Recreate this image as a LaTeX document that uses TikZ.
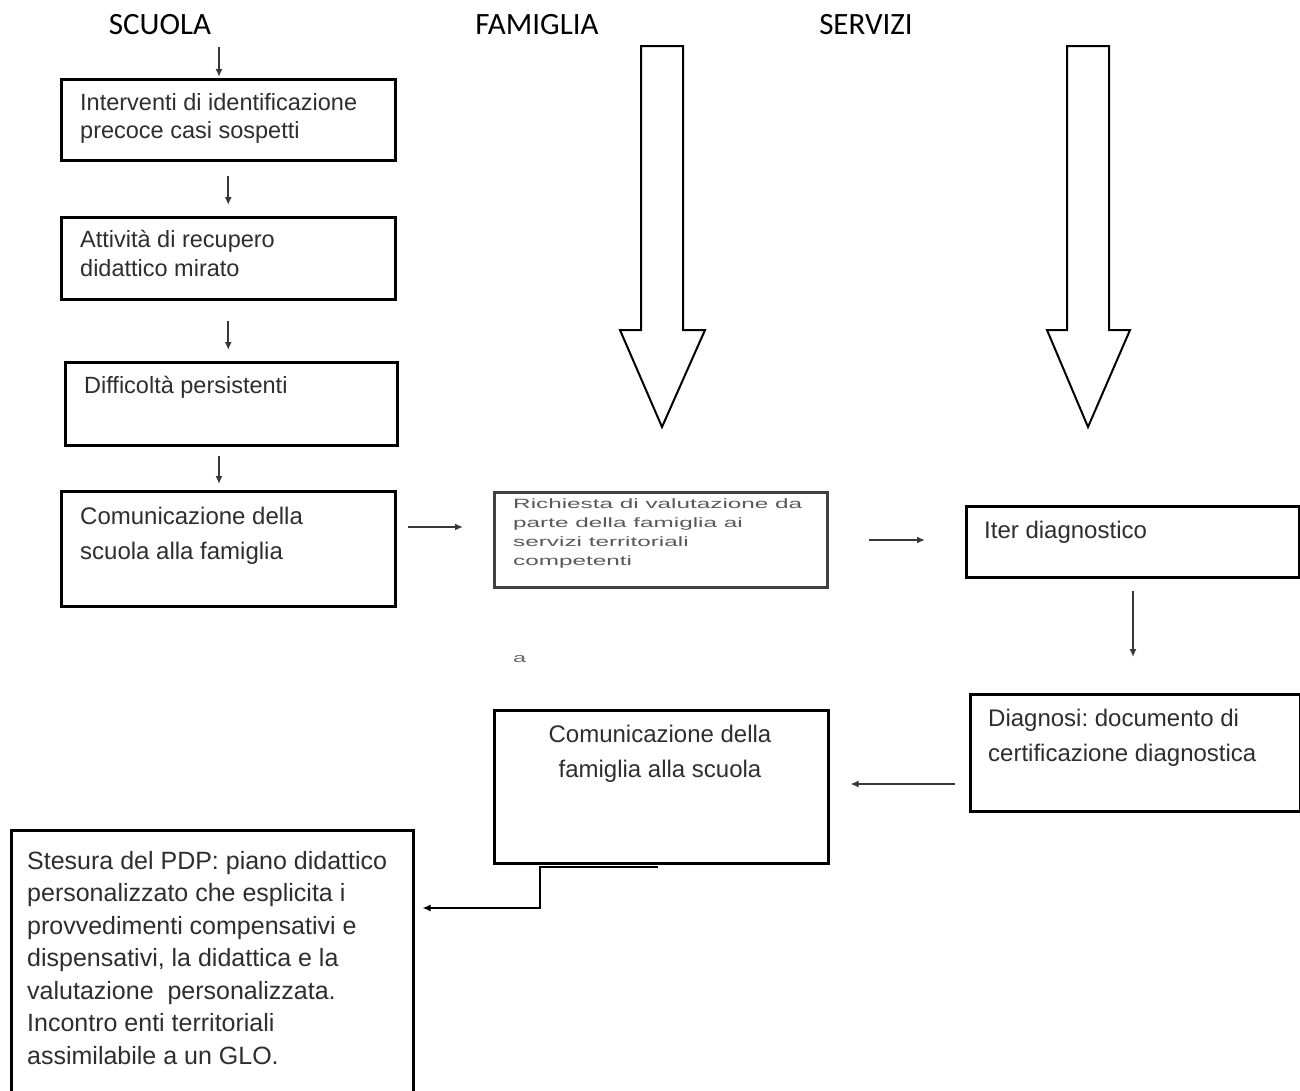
\documentclass[tikz,border=0pt]{standalone}
\usepackage{fontspec}
\setmainfont{Liberation Sans}
\newfontfamily\hdrfont{Carlito}
\usetikzlibrary{arrows.meta}
\newcommand\FL{\rule{0pt}{1em}}
\frenchspacing
\begin{document}
\begin{tikzpicture}[x=1pt,y=-1pt,
  boxn/.style={draw=black, line width=2.5pt, inner sep=0pt, anchor=north west},
  txt/.style={anchor=north west, inner sep=0pt, align=left, text=black!82},
  hdr/.style={anchor=base, inner sep=0pt, font=\hdrfont\fontsize{31}{36}\selectfont},
  arr/.style={draw=black!78, line width=2.4pt, -{Latex[length=8pt,width=7pt]}},
  blockarr/.style={draw=black, line width=2pt, line join=miter, fill=white}
]
\useasboundingbox (0,0) rectangle (1300,1090);
\fill[white] (0,0) rectangle (1300,1090);

% headers
\node[hdr] (hs) at (160,34) {SCUOLA};
\node[hdr] (hf) at (537,34) {FAMIGLIA};
\node[hdr] (hv) at (866,34) {SERVIZI};

% big block arrows
\draw[blockarr] (641,46) -- (683,46) -- (683,330) -- (705,330) -- (662,427) -- (620,330) -- (641,330) -- cycle;
\draw[blockarr] (1067,46) -- (1109,46) -- (1109,330) -- (1130,330) -- (1088,427) -- (1047,330) -- (1067,330) -- cycle;

% SCUOLA column
\node[boxn, minimum width=334pt, minimum height=81pt] (b1) at (60,78) {};
\node[txt, font=\fontsize{23.5}{28}\selectfont] (t1) at (80,86.5) {\FL Interventi di identificazione\\precoce casi sospetti};

\node[boxn, minimum width=334pt, minimum height=82pt] (b2) at (60,216) {};
\node[txt, font=\fontsize{23.5}{29}\selectfont] (t2) at (80,223.5) {\FL Attività di recupero\\didattico mirato};

\node[boxn, minimum width=332pt, minimum height=83pt] (b3) at (64,361) {};
\node[txt, font=\fontsize{23.5}{29}\selectfont] (t3) at (84,369.5) {\FL Difficoltà persistenti};

\node[boxn, minimum width=334pt, minimum height=115pt] (b4) at (60,490) {};
\node[txt, font=\fontsize{24}{35}\selectfont] (t4) at (80,500) {\FL Comunicazione della\\scuola alla famiglia};

% FAMIGLIA column
\node[boxn, draw=black!75, line width=2.8pt, minimum width=333pt, minimum height=95pt] (br) at (493,491) {};
\node[txt, text=black!65] (tr) at (513,494.5) {\scalebox{1.8}[1]{\begin{minipage}[t]{200pt}\fontsize{13.5}{19}\selectfont\FL Richiesta di valutazione da\\parte della famiglia ai\\servizi territoriali\\competenti\end{minipage}}};

\node[txt, text=black!60] (ta) at (513,655) {\scalebox{1.8}[1]{\fontsize{13}{15}\selectfont a}};

\node[boxn, minimum width=334pt, minimum height=153pt] (bf) at (493,709) {};
\node[anchor=north, inner sep=0pt, align=center, text=black!82, font=\fontsize{24}{35}\selectfont] (tf) at (660,718) {\FL Comunicazione della\\famiglia alla scuola};

% SERVIZI column
\node[boxn, minimum width=333pt, minimum height=71pt] (bi) at (965,505) {};
\node[txt, font=\fontsize{24}{35}\selectfont] (ti) at (984,514) {\FL Iter diagnostico};

\node[boxn, minimum width=330pt, minimum height=117pt] (bd) at (969,693) {};
\node[txt, font=\fontsize{24}{35}\selectfont] (td) at (988,702) {\FL Diagnosi: documento di\\certificazione diagnostica};

% PDP
\node[boxn, minimum width=402pt, minimum height=270pt] (bp) at (10,829) {};
\node[txt, font=\fontsize{25}{32.5}\selectfont] (tp) at (27,844) {\FL Stesura del PDP: piano didattico\\personalizzato che esplicita i\\provvedimenti compensativi e\\dispensativi, la didattica e la\\valutazione\ \ personalizzata.\\Incontro enti territoriali\\assimilabile a un GLO.};

% connectors
\coordinate (s0) at (219,47);
\draw[arr, shorten >=1pt] (s0) -- (b1.north -| s0);
\draw[arr, shorten <=14pt, shorten >=11pt] (b1.south) -- (b2.north);
\draw[arr, shorten <=20pt, shorten >=11pt] (b2.south) -- (b2.south |- b3.north);
\draw[arr, shorten <=9pt, shorten >=6pt] (b3.south -| s0) -- (b4.north -| s0);
\draw[arr, shorten <=11pt, shorten >=30pt] (b4.east |- 0,527) -- (br.west |- 0,527);
\draw[arr, shorten <=40pt, shorten >=40pt] (br.east |- 0,540) -- (bi.west |- 0,540);
\draw[arr, shorten <=12pt, shorten >=36pt] (bi.south -| 1133,0) -- (bd.north -| 1133,0);
\draw[arr, shorten <=14pt, shorten >=21pt] (bd.west |- 0,784) -- (bf.east |- 0,784);
\coordinate (e0) at (658,867);
\draw[arr, line width=2.2pt, draw=black, line join=miter] (e0) -- (540,867) -- (540,908) -- ([xshift=8pt]bp.east |- 0,908);
\end{tikzpicture}
\end{document}
